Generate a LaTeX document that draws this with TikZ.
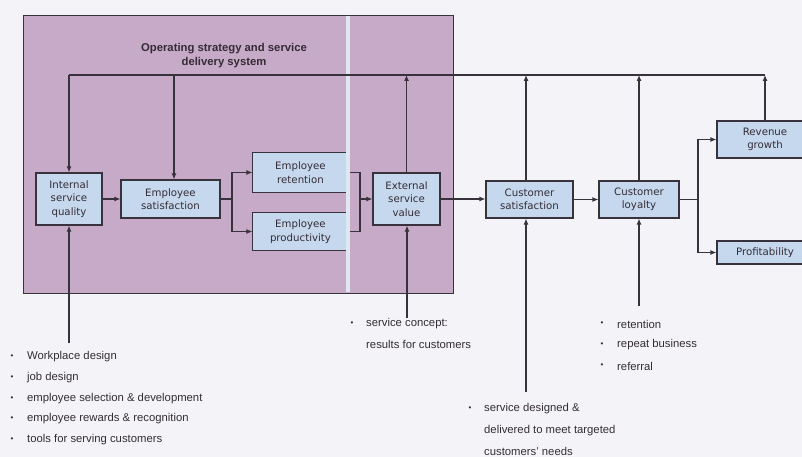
\documentclass[tikz,border=0pt]{standalone}
\usepackage{fontspec}
\setmainfont{Liberation Sans}
\newfontfamily\boxfont{DejaVu Sans}
\usetikzlibrary{arrows.meta}
\definecolor{bgc}{RGB}{244,244,248}
\definecolor{purp}{RGB}{199,170,199}
\definecolor{boxblue}{RGB}{198,216,238}
\definecolor{linec}{RGB}{55,50,60}
\definecolor{txtc}{RGB}{52,44,52}
\definecolor{seam}{RGB}{222,232,240}
\tikzset{
  blk/.style={draw=linec, line width=1.1pt, fill=boxblue, align=center, inner sep=0pt,
    font=\boxfont\fontsize{10.2}{13.5}\selectfont, text=txtc},
  openblk/.style={blk, draw=none},
  conn/.style={draw=linec, line width=1.1pt},
  arr/.style={conn, -{Latex[length=6pt,width=5pt]}},
  lbl/.style={anchor=west, inner sep=0pt, font=\fontsize{11.3}{13}\selectfont, text=txtc},
  bul/.style={anchor=center, inner sep=0pt, font=\fontsize{8}{8}\selectfont, text=txtc},
}
\begin{document}
\begin{tikzpicture}[x=1pt,y=-1pt]
\useasboundingbox (0,0) rectangle (802,457);
\fill[bgc] (0,0) rectangle (802,457);
% operating strategy region
\draw[fill=purp, draw=linec, line width=0.9pt] (23,15) rectangle (453,293);
\node[font=\bfseries\fontsize{11.3}{14}\selectfont, text=txtc, align=center] (title) at (224,55.5)
  {Operating strategy and service\\delivery system};

% boxes
\node[blk, minimum width=66pt, minimum height=52pt] (isq) at (69,199) {Internal\\service\\quality};
\node[blk, minimum width=99pt, minimum height=38pt] (es) at (170.5,199) {Employee\\satisfaction};
\node[openblk, minimum width=95pt, minimum height=38pt] (er) at (300.5,172.5) {Employee\\retention};
\node[openblk, minimum width=95pt, minimum height=37pt] (ep) at (300.5,231.5) {Employee\\productivity};
\draw[conn] (er.north east) -- (er.north west) -- (er.south west) -- (er.south east);
\draw[conn] (ep.north east) -- (ep.north west) -- (ep.south west) -- (ep.south east);
\node[blk, minimum width=67pt, minimum height=52pt] (esv) at (406.5,199) {External\\service\\value};
\node[blk, minimum width=87pt, minimum height=37pt] (cs) at (529.5,199.5) {Customer\\satisfaction};
\node[blk, minimum width=80pt, minimum height=37pt] (cl) at (639,199.5) {Customer\\loyalty};
\node[blk, minimum width=96pt, minimum height=37pt] (rg) at (765,139.5) {Revenue\\growth};
\node[blk, minimum width=96pt, minimum height=23pt] (pr) at (765,252.5) {Profitability};

% seam line over the region
\draw[seam, line width=3.4pt] (347.8,15.6) -- (347.8,292.4);

% main chain
\draw[arr] (isq.east) -- (es.west);
\coordinate (f1) at (232,199);
\draw[conn] (es.east) -- (f1);
\draw[arr] (f1) |- (er.west);
\draw[arr] (f1) |- (ep.west);
\coordinate (m1) at (360,199);
\coordinate (r1) at (349.5,172.5);
\coordinate (r2) at (349.5,231.5);
\draw[conn] (r1) -| (m1);
\draw[conn] (r2) -| (m1);
\draw[arr] (m1) -- (esv.west);
\draw[arr] (esv.east) -- (cs.west |- esv.east);
\draw[arr] (cs.east) -- (cl.west);
\coordinate (f2) at (698,199.5);
\draw[conn] (cl.east) -- (f2);
\draw[arr] (f2) |- (rg.west);
\draw[arr] (f2) |- (pr.west);

% feedback line
\coordinate (tl) at (69,75);
\coordinate (tr) at (765,75);
\coordinate (t2) at (174,75);
\coordinate (b3) at (526,392);
\draw[conn] (tl) -- (tr);
\draw[arr] (tl) -- (isq.north);
\draw[arr] (t2) -- (t2 |- es.north);
\draw[arr] (esv.north) -- (esv.north |- tl);
\draw[arr] (b3 |- cs.north) -- (b3 |- tl);
\draw[arr] (cl.north) -- (cl.north |- tl);
\draw[arr] (rg.north) -- (rg.north |- tl);

% inputs from below
\coordinate (b1) at (69,343);
\coordinate (b2) at (407,318);
\coordinate (b4) at (639,306);
\draw[arr] (b1) -- (isq.south);
\draw[arr] (b2) -- (b2 |- esv.south);
\draw[arr] (b3) -- (b3 |- cs.south);
\draw[arr] (b4) -- (cl.south);

% list: internal service quality
\node[bul] (d1) at (12,357) {•}; \node[lbl] (l1) at (27,357) {Workplace design};
\node[bul] (d2) at (12,378) {•}; \node[lbl] (l2) at (27,378) {job design};
\node[bul] (d3) at (12,398.5) {•}; \node[lbl] (l3) at (27,398.5) {employee selection \& development};
\node[bul] (d4) at (12,419) {•}; \node[lbl] (l4) at (27,419) {employee rewards \& recognition};
\node[bul] (d5) at (12,440) {•}; \node[lbl] (l5) at (27,440) {tools for serving customers};

% list: external service value
\node[bul] (d6) at (352,324) {•}; \node[lbl] (l6) at (366,324) {service concept:};
\node[lbl] (l7) at (366,344.5) {results for customers};

% list: customer loyalty
\node[bul] (d8) at (602,324) {•}; \node[lbl] (l8) at (617,324) {retention};
\node[bul] (d9) at (602,345) {•}; \node[lbl] (l9) at (617,345) {repeat business};
\node[bul] (d10) at (602,366) {•}; \node[lbl] (l10) at (617,366) {referral};

% list: customer satisfaction
\node[bul] (d11) at (470,409) {•}; \node[lbl] (l11) at (484,409) {service designed \&};
\node[lbl] (l12) at (484,430.5) {delivered to meet targeted};
\node[lbl] (l13) at (484,451.5) {customers' needs};
\end{tikzpicture}
\end{document}
